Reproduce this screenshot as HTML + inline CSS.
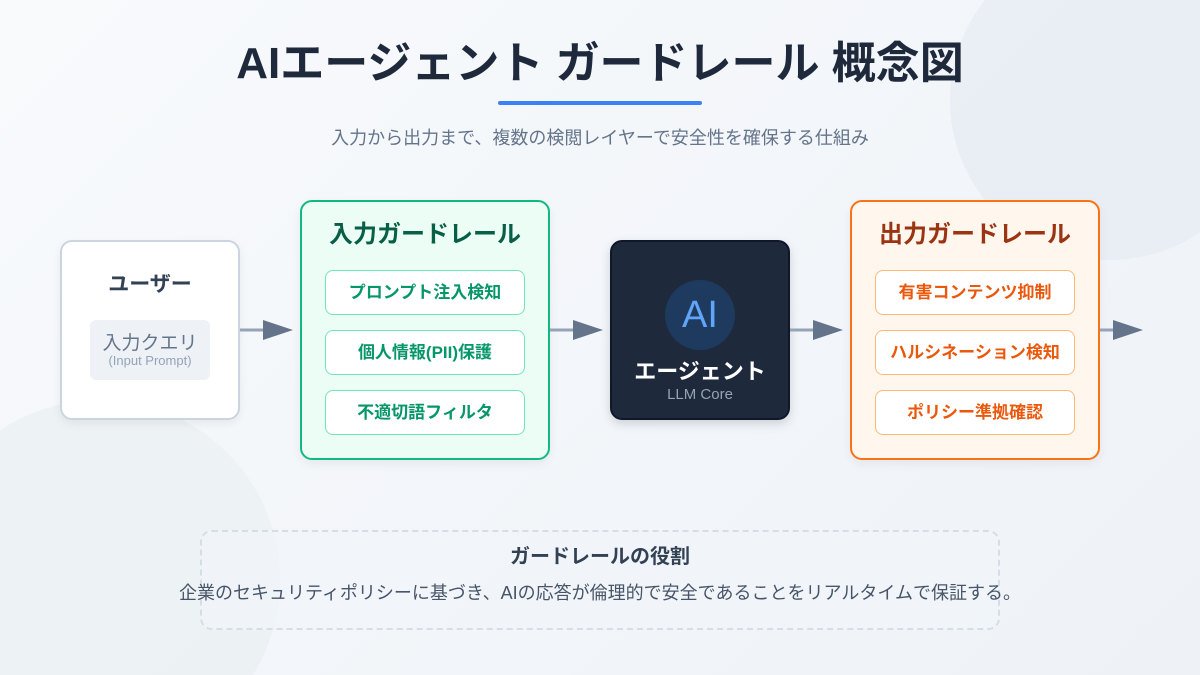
<!DOCTYPE html>
<html style="width:1200px;height:675px;overflow:hidden;background:#f1f4f8"><head><meta charset="utf-8"><style>
*{margin:0;padding:0;box-sizing:border-box}
body{width:1200px;height:675px;overflow:hidden;background:linear-gradient(135deg,#f8fafc,#eef2f7);font-family:"Liberation Sans","Noto Sans CJK JP",sans-serif;position:relative}
.abs{position:absolute}
.c{text-align:center}
.item{position:absolute;left:23px;width:200px;height:45px;border-radius:8px;background:#fff;font-weight:bold;font-size:17px;line-height:43px;text-align:center}
.g .item{border:1px solid #6ee7b7;color:#059669}
.o .item{border:1px solid #fdba74;color:#ea580c}
</style></head><body>
<svg class="abs" style="left:0;top:0" width="1200" height="675">
 <circle cx="1110" cy="100" r="160" fill="#e6ebf3" opacity=".7"/>
 <circle cx="100" cy="580" r="180" fill="#e8eef0" opacity=".6"/>
</svg>
<div class="abs c" style="left:0;top:34px;width:1200px;font-size:44px;font-weight:bold;color:#1e293b;line-height:60px">AIエージェント ガードレール 概念図</div>
<div class="abs" style="left:498px;top:101px;width:204px;height:4px;border-radius:2px;background:#3b82f6"></div>
<div class="abs c" style="left:0;top:126px;width:1200px;font-size:18px;color:#64748b;line-height:24px">入力から出力まで、複数の検閲レイヤーで安全性を確保する仕組み</div>

<div class="abs" style="left:60px;top:240px;width:180px;height:180px;background:#fff;border:2px solid #cbd5e1;border-radius:12px;box-shadow:0 4px 10px rgba(0,0,0,.06)">
 <div class="abs c" style="left:0;top:26px;width:176px;font-size:21px;font-weight:bold;color:#334155">ユーザー</div>
 <div class="abs c" style="left:28px;top:78px;width:120px;height:60px;background:#eef2f7;border-radius:6px">
  <div style="font-size:19px;color:#64748b;line-height:20px;margin-top:14px">入力クエリ</div>
  <div style="font-size:13px;color:#94a3b8;line-height:13px">(Input Prompt)</div>
 </div>
</div>

<div class="abs g" style="left:300px;top:200px;width:250px;height:260px;background:#ecfdf5;border:2px solid #10b981;border-radius:12px;box-shadow:0 4px 10px rgba(0,0,0,.06)">
 <div class="abs c" style="left:0;top:12px;width:246px;font-size:24px;font-weight:bold;color:#065f46">入力ガードレール</div>
 <div class="item" style="top:68px">プロンプト注入検知</div>
 <div class="item" style="top:128px">個人情報(PII)保護</div>
 <div class="item" style="top:188px">不適切語フィルタ</div>
</div>

<div class="abs" style="left:610px;top:240px;width:180px;height:180px;background:#1e293b;border:2px solid #0f172a;border-radius:12px;box-shadow:0 4px 10px rgba(0,0,0,.15)">
 <div class="abs c" style="left:53px;top:38px;width:70px;height:70px;border-radius:50%;background:#1e3a5f;color:#60a5fa;font-size:38px;line-height:70px">AI</div>
 <div class="abs c" style="left:0;top:112px;width:176px;font-size:22px;font-weight:bold;color:#fff">エージェント</div>
 <div class="abs c" style="left:0;top:144px;width:176px;font-size:15px;color:#94a3b8">LLM Core</div>
</div>

<div class="abs o" style="left:850px;top:200px;width:250px;height:260px;background:#fff7ed;border:2px solid #f97316;border-radius:12px;box-shadow:0 4px 10px rgba(0,0,0,.06)">
 <div class="abs c" style="left:0;top:12px;width:246px;font-size:24px;font-weight:bold;color:#9a3412">出力ガードレール</div>
 <div class="item" style="top:68px">有害コンテンツ抑制</div>
 <div class="item" style="top:128px">ハルシネーション検知</div>
 <div class="item" style="top:188px">ポリシー準拠確認</div>
</div>

<svg class="abs" style="left:0;top:0" width="1200" height="675">
 <g stroke="#94a3b8" stroke-width="3">
  <line x1="240" y1="330" x2="266" y2="330"/><line x1="550" y1="330" x2="576" y2="330"/>
  <line x1="790" y1="330" x2="816" y2="330"/><line x1="1100" y1="330" x2="1116" y2="330"/>
 </g>
 <g fill="#64748b">
  <polygon points="263,320 293,330 263,340"/><polygon points="573,320 603,330 573,340"/>
  <polygon points="813,320 843,330 813,340"/><polygon points="1113,320 1143,330 1113,340"/>
 </g>
</svg>

<div class="abs" style="left:200px;top:530px;width:800px;height:100px;border:2px dashed #d5dde7;border-radius:12px;background:rgba(241,245,249,.7)"></div>
<div class="abs c" style="left:0;top:543px;width:1200px;font-size:20px;font-weight:bold;color:#334155;line-height:28px">ガードレールの役割</div>
<div class="abs c" style="left:0;top:581px;width:1200px;font-size:18px;color:#475569;line-height:24px">企業のセキュリティポリシーに基づき、AIの応答が倫理的で安全であることをリアルタイムで保証する。</div>
</body></html>
